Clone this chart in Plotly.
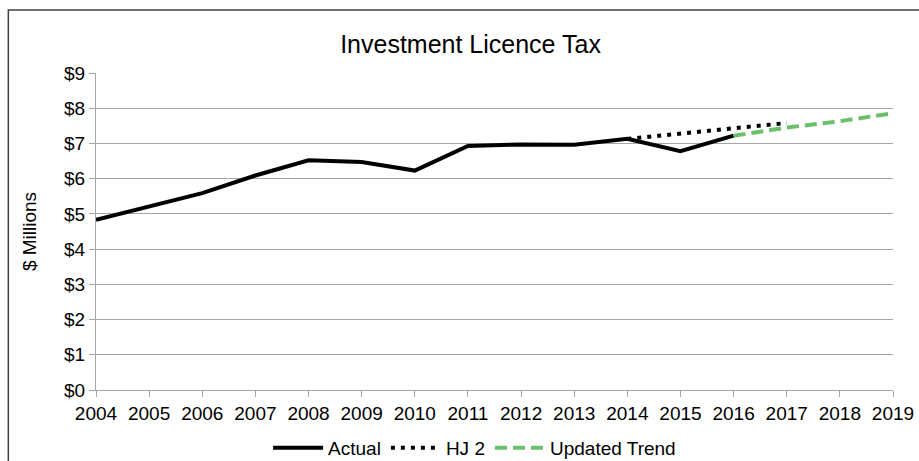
import plotly.graph_objects as go

years = list(range(2004, 2020))
actual_years = list(range(2004, 2017))
actual = [4.83, 5.21, 5.59, 6.09, 6.52, 6.47, 6.23, 6.93, 6.97, 6.96, 7.13, 6.78, 7.22]
hj2_years = [2014, 2015, 2016, 2017]
hj2 = [7.13, 7.28, 7.43, 7.58]
trend_years = [2016, 2017, 2018, 2019]
trend = [7.22, 7.45, 7.63, 7.86]
ytick_vals = list(range(0, 10))
ytick_text = ["$" + str(v) for v in ytick_vals]

FONT = "Liberation Sans, Arial, sans-serif"

fig = go.Figure()
fig.add_trace(go.Scatter(x=actual_years, y=actual, mode="lines", name="Actual",
                         line=dict(color="#000000", width=4)))
fig.add_trace(go.Scatter(x=hj2_years, y=hj2, mode="lines", name="HJ 2",
                         line=dict(color="#000000", width=4, dash="4px,6px")))
fig.add_trace(go.Scatter(x=trend_years, y=trend, mode="lines", name="Updated Trend",
                         line=dict(color="#6CBF6C", width=4, dash="12px,6px")))

fig.update_layout(
    width=919, height=461,
    margin=dict(l=96, r=26, t=73, b=71, autoexpand=False),
    paper_bgcolor="white", plot_bgcolor="white",
    font=dict(family=FONT, size=19, color="#000000"),
    title=dict(text="Investment Licence Tax", x=0.512, xanchor="center",
               y=0.905, yanchor="middle", font=dict(size=25, family=FONT, color="#000000")),
    showlegend=True,
    legend=dict(orientation="h", x=0.475, xanchor="center", y=-0.183, yanchor="middle",
                font=dict(size=19, family=FONT), itemwidth=50, tracegroupgap=0),
    xaxis=dict(range=[2004, 2019], tickmode="array", tickvals=years,
               ticktext=[str(y) for y in years], showgrid=False, zeroline=False,
               showline=True, linecolor="#A6A6A6", linewidth=1,
               ticks="outside", ticklen=6, tickcolor="#A6A6A6",
               tickfont=dict(size=19, family=FONT)),
    yaxis=dict(range=[0, 9], tickmode="array", tickvals=ytick_vals, ticktext=ytick_text,
               showgrid=True, gridcolor="#A6A6A6", gridwidth=1, zeroline=False,
               showline=True, linecolor="#A6A6A6", linewidth=1,
               ticks="outside", ticklen=6, tickcolor="#A6A6A6",
               tickfont=dict(size=19, family=FONT),
               title=dict(text="$ Millions", font=dict(size=19, family=FONT), standoff=22)),
)

fig.add_shape(type="rect", xref="paper", yref="paper",
              x0=-0.110, x1=1.04, y0=-0.24, y1=1.199,
              line=dict(color="#404040", width=1.5), fillcolor="rgba(0,0,0,0)", layer="below")

fig.write_html("out.html")
